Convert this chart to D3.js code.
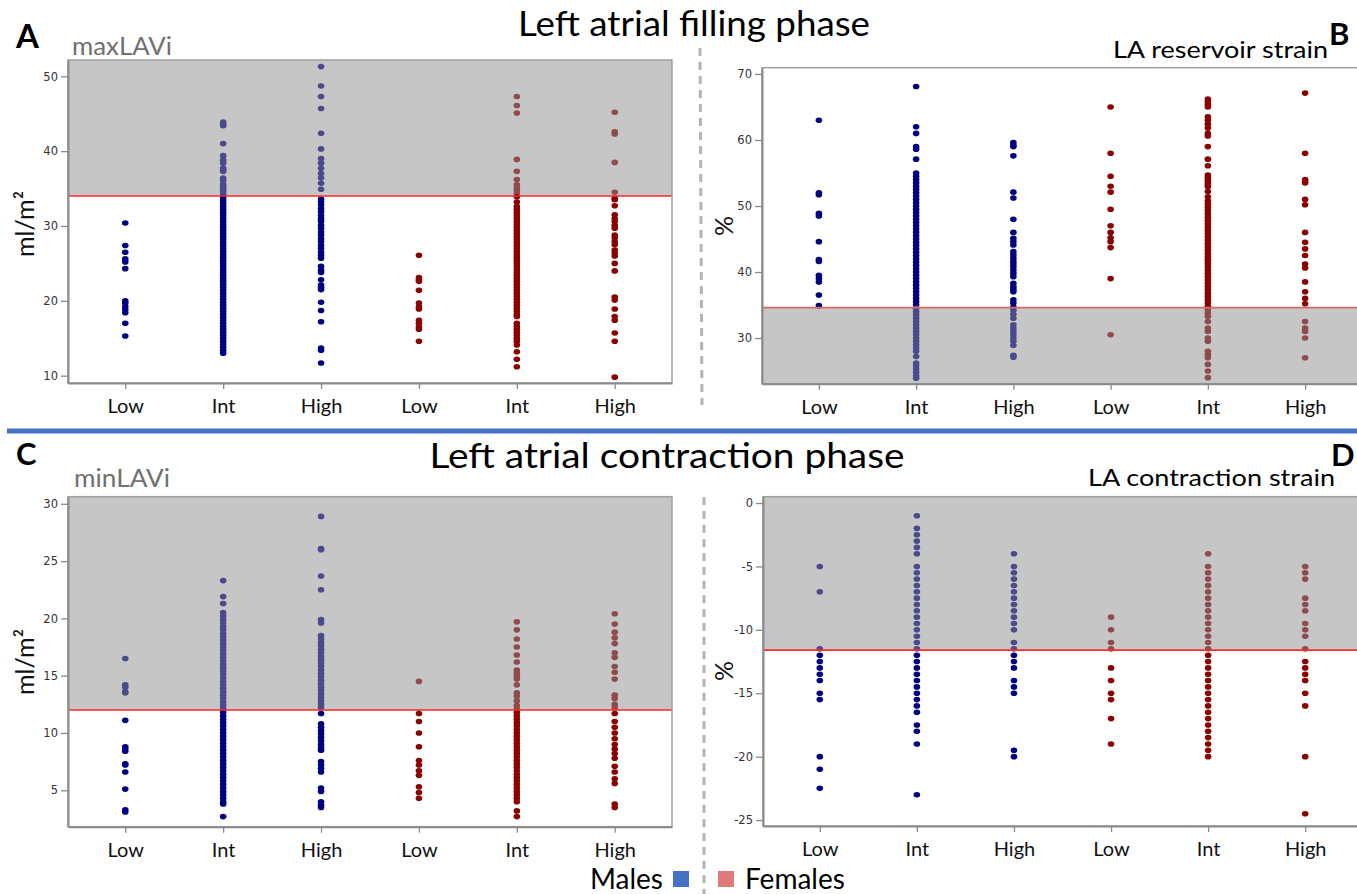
<!DOCTYPE html>
<html>
<head>
<meta charset="utf-8">
<script src="https://cdn.jsdelivr.net/npm/d3@7"></script>
<style>
  body { margin: 0; background: #fff; }
  svg { display: block; }
</style>
</head>
<body>
<svg id="chart" width="1357" height="894"></svg>
<script>
// category labels: males Low/Int/High, then females Low/Int/High
const groups = ["Low", "Int", "High", "Low", "Int", "High"]

// A - maxLAVi (ml/m2)
const maxLAVi = [
  [30.4, 27.4, 26.5, 25.6, 25.2, 24.3, 20.0, 19.7, 19.2, 18.8, 18.4, 17.0, 15.3],
  [43.9, 43.6, 43.4, 41.0, 39.4, 38.8, 38.4, 37.7, 37.5, 37.3, 36.4, 36.1, 35.6, 35.3, 35.0, 34.7, 34.4, 34.1,
   33.8, 33.4, 33.0, 32.6, 32.2, 31.8, 31.4, 31.0, 30.6, 30.2, 29.8, 29.4, 29.0, 28.6, 28.2, 27.8, 27.4, 27.0,
   26.6, 26.2, 25.8, 25.4, 25.0, 24.6, 24.2, 23.8, 23.4, 23.0, 22.6, 22.2, 21.8, 21.4, 21.0, 20.6, 20.2, 19.8,
   19.4, 19.0, 18.6, 18.2, 17.8, 17.4, 17.0, 16.6, 16.2, 15.8, 15.4, 15.0, 14.6, 14.2, 13.8, 13.4, 13.0],
  [51.3, 48.7, 47.3, 45.7, 42.4, 40.3, 39.0, 38.4, 37.7, 37.0, 36.4, 35.7, 34.9, 33.6, 33.2, 32.8, 32.3, 31.9,
   31.4, 31.0, 30.6, 30.1, 29.7, 29.2, 28.8, 28.3, 27.9, 27.4, 27.0, 26.5, 26.1, 25.7, 24.6, 24.1, 23.8, 22.8,
   22.1, 21.8, 21.5, 19.8, 18.7, 17.2, 13.7, 13.4, 11.7],
  [26.1, 23.1, 22.8, 22.6, 21.4, 19.7, 19.2, 18.9, 17.4, 17.0, 16.5, 16.2, 14.6],
  [47.3, 46.1, 45.1, 38.9, 37.3, 36.2, 35.5, 35.1, 34.8, 34.4, 33.9, 33.2, 32.6, 32.2, 31.8, 31.4, 31.0, 30.6,
   30.2, 29.8, 29.4, 29.0, 28.6, 28.2, 27.8, 27.4, 27.0, 26.6, 26.2, 25.8, 25.4, 25.0, 24.6, 24.2, 23.8, 23.4,
   23.0, 22.6, 22.2, 21.8, 21.4, 21.0, 20.6, 20.2, 19.8, 19.4, 19.0, 18.6, 18.2, 17.9, 17.0, 16.6, 16.2, 15.8,
   15.4, 15.0, 14.6, 14.1, 13.2, 12.2, 11.2],
  [45.2, 42.6, 42.3, 38.5, 34.5, 33.7, 33.5, 32.7, 31.5, 31.0, 30.6, 30.1, 29.7, 28.8, 28.4, 27.9, 27.5, 26.8,
   26.4, 26.0, 25.0, 24.0, 20.5, 20.1, 18.9, 17.9, 17.4, 15.7, 14.6, 9.8]
]

// B - LA reservoir strain (%)
const reservoir = [
  [63.0, 52.0, 51.7, 48.9, 48.5, 44.6, 41.9, 41.6, 39.5, 39.0, 38.5, 36.5, 34.9],
  [68.1, 62.0, 61.0, 59.0, 58.6, 57.1, 55.0, 54.5, 54.0, 53.5, 53.0, 52.5, 52.0, 51.5, 51.0, 50.5, 50.0, 49.5,
   49.0, 48.5, 48.0, 47.5, 47.0, 46.5, 46.0, 45.5, 45.0, 44.5, 44.0, 43.5, 43.0, 42.5, 42.0, 41.5, 41.0, 40.5,
   40.0, 39.5, 39.0, 38.5, 38.0, 37.5, 37.0, 36.5, 36.0, 35.5, 35.0, 34.5, 34.0, 33.5, 33.0, 32.5, 32.0, 31.5,
   31.0, 30.5, 30.0, 29.5, 29.0, 28.5, 28.0, 27.2, 26.2, 25.8, 25.3, 24.8, 24.3, 23.9],
  [59.6, 59.2, 59.0, 57.6, 52.1, 51.2, 48.0, 46.0, 45.1, 44.6, 44.1, 43.1, 42.6, 42.1, 41.6, 41.2, 40.8, 40.3,
   39.8, 39.3, 38.3, 37.8, 37.4, 37.0, 35.8, 35.3, 34.7, 34.2, 33.6, 33.0, 32.0, 31.5, 31.0, 30.5, 30.0, 29.5,
   28.9, 27.4, 27.1],
  [65.0, 58.0, 54.5, 53.0, 52.1, 49.5, 47.0, 46.0, 45.2, 44.6, 43.7, 39.0, 30.5],
  [66.2, 65.8, 65.4, 65.0, 63.5, 63.0, 62.4, 61.8, 61.0, 60.6, 59.0, 57.1, 56.1, 54.7, 54.3, 53.9, 53.5, 53.2,
   52.9, 52.2, 51.4, 50.8, 50.3, 49.8, 49.3, 48.8, 48.3, 47.8, 47.3, 46.8, 46.3, 45.8, 45.3, 44.8, 44.3, 43.8,
   43.3, 42.8, 42.3, 41.8, 41.3, 40.8, 40.3, 39.8, 39.3, 38.8, 38.3, 37.8, 37.3, 36.8, 36.3, 35.8, 35.3, 34.8,
   34.3, 33.8, 33.3, 32.5, 31.5, 31.0, 30.0, 29.5, 28.0, 27.5, 27.0, 26.0, 25.0, 24.0],
  [67.1, 58.0, 54.0, 53.7, 53.5, 51.0, 50.2, 46.0, 44.5, 43.5, 42.5, 41.2, 40.6, 38.5, 37.0, 36.0, 35.2, 32.5,
   31.5, 31.0, 30.0, 27.0]
]

// C - minLAVi (ml/m2)
const minLAVi = [
  [16.5, 14.2, 14.0, 13.6, 13.5, 11.1, 8.8, 8.6, 8.4, 7.3, 7.2, 6.6, 5.1, 3.3, 3.1],
  [23.3, 21.9, 21.3, 20.5, 20.2, 19.9, 19.6, 19.3, 19.0, 18.7, 18.4, 18.1, 17.8, 17.5, 17.2, 16.9, 16.6, 16.3,
   16.0, 15.7, 15.4, 15.1, 14.8, 14.5, 14.2, 13.9, 13.6, 13.3, 13.0, 12.7, 12.4, 12.1, 11.8, 11.5, 11.2, 10.9,
   10.6, 10.3, 10.0, 9.7, 9.4, 9.1, 8.8, 8.5, 8.2, 7.9, 7.6, 7.3, 7.0, 6.7, 6.4, 6.1, 5.8, 5.5, 5.2, 4.9, 4.6,
   4.3, 4.0, 3.8, 2.7],
  [28.9, 26.1, 26.0, 23.7, 22.5, 19.9, 19.6, 18.5, 18.2, 17.9, 17.6, 17.3, 17.0, 16.7, 16.4, 16.1, 15.8, 15.5,
   15.2, 14.9, 14.6, 14.3, 14.0, 13.7, 13.4, 13.1, 12.8, 12.5, 12.2, 11.7, 10.8, 10.5, 10.2, 9.9, 9.6, 9.3, 9.0,
   8.7, 8.5, 7.5, 7.2, 6.9, 6.6, 5.2, 4.9, 4.0, 3.7, 3.5],
  [14.5, 11.7, 11.0, 10.0, 8.8, 7.6, 7.2, 6.7, 6.3, 5.3, 4.8, 4.3],
  [19.7, 19.0, 18.2, 17.5, 16.8, 16.2, 15.5, 15.2, 14.9, 14.7, 14.2, 13.5, 13.2, 12.8, 12.4, 12.1, 11.8, 11.5,
   11.2, 10.9, 10.6, 10.3, 10.0, 9.7, 9.4, 9.1, 8.8, 8.5, 8.2, 7.9, 7.6, 7.3, 7.0, 6.7, 6.4, 6.1, 5.8, 5.5, 5.2,
   4.9, 4.6, 4.3, 4.0, 3.2, 2.7],
  [20.4, 19.5, 18.8, 18.3, 17.8, 17.0, 16.6, 15.8, 15.3, 14.7, 13.3, 13.0, 12.5, 12.2, 11.7, 11.0, 10.5, 10.0,
   9.5, 9.0, 8.6, 8.2, 7.8, 7.1, 6.6, 6.0, 5.6, 3.8, 3.5]
]

// D - LA contraction strain (%)
const contraction = [
  [-5, -7, -11.5, -12, -12.5, -13, -13.5, -14, -15, -15.5, -20, -21, -22.5],
  [-1, -2, -2.5, -3, -3.5, -4, -5, -5.5, -6, -6.5, -7, -7.5, -8, -8.5, -9, -9.5, -10, -10.5, -11, -11.5, -12,
   -12.5, -13, -13.5, -14, -14.5, -15, -15.5, -16, -16.5, -17.5, -18, -19, -23],
  [-4, -5, -5.5, -6, -6.5, -7, -7.5, -8, -8.5, -9, -9.5, -10, -11, -11.5, -12, -12.5, -13, -14, -14.5, -15,
   -19.5, -20],
  [-9, -10, -11, -11.5, -13, -14, -15, -15.5, -17, -19],
  [-4, -5, -5.5, -6, -6.5, -7, -7.5, -8, -8.5, -9, -9.5, -10, -10.5, -11, -11.5, -12, -12.5, -13, -13.5, -14,
   -14.5, -15, -15.5, -16, -16.5, -17, -17.5, -18, -18.5, -19, -19.5, -20],
  [-5, -5.5, -6, -7.5, -8, -8.5, -9.5, -10, -10.5, -11.5, -12.5, -13, -13.5, -14, -15, -16, -20, -24.5]
]

const svg = d3.select("#chart")

function drawPanel(cfg) {
  const g = svg.append("g")

  const x = d3.scalePoint()
    .domain(d3.range(groups.length))
    .range([cfg.x0, cfg.x1])
    .padding(0.585)

  const y = d3.scaleLinear()
    .domain(cfg.domain)
    .range([cfg.y1, cfg.y0])

  // shaded (abnormal) zone
  const zTop = cfg.grayAbove ? cfg.y0 : y(cfg.cut)
  const zBot = cfg.grayAbove ? y(cfg.cut) : cfg.y1
  g.append("rect")
    .attr("x", cfg.x0).attr("y", zTop)
    .attr("width", cfg.x1 - cfg.x0).attr("height", zBot - zTop)
    .attr("fill", "#c6c6c6")

  // dots
  cfg.data.forEach((col, i) => {
    const male = i < 3
    g.append("g").selectAll("ellipse")
      .data(col)
      .join("ellipse")
      .attr("cx", x(i))
      .attr("cy", d => y(d))
      .attr("rx", 3.3)
      .attr("ry", 2.8)
      .attr("fill", d => {
        const inGray = cfg.grayAbove ? d > cfg.cut : d < cfg.cut
        if (male) return inGray ? "#4a4a8c" : "#000080"
        return inGray ? "#8e4c4c" : "#8b0000"
      })
  })

  // cut-off line
  g.append("line")
    .attr("x1", cfg.x0).attr("x2", cfg.x1)
    .attr("y1", y(cfg.cut)).attr("y2", y(cfg.cut))
    .attr("stroke", cfg.cutColor)
    .attr("stroke-width", 1.6)

  // frame
  g.append("rect")
    .attr("x", cfg.x0).attr("y", cfg.y0)
    .attr("width", cfg.x1 - cfg.x0).attr("height", cfg.y1 - cfg.y0)
    .attr("fill", "none")
    .attr("stroke", "#a0a0a0")
    .attr("stroke-width", 1.5)

  const yAxis = g.append("g")
    .attr("transform", `translate(${cfg.x0},0)`)
    .call(d3.axisLeft(y).tickValues(cfg.ticks).tickSize(7).tickSizeOuter(0).tickPadding(3)
      .tickFormat(d => String(d)))   // plain hyphen minus, like the original
  yAxis.select(".domain").attr("stroke", "#8a8a8a").attr("stroke-width", 2)
  yAxis.selectAll(".tick line").attr("stroke", "#8a8a8a").attr("stroke-width", 1.3)
  yAxis.selectAll(".tick text")
    .attr("fill", "#333")
    .style("font-family", "'DejaVu Sans', Verdana, sans-serif")
    .style("font-size", "11.5px")

  const xAxis = g.append("g")
    .attr("transform", `translate(0,${cfg.y1})`)
    .call(d3.axisBottom(x).tickSize(6).tickSizeOuter(0).tickPadding(10).tickFormat(i => groups[i]))
  xAxis.select(".domain").attr("stroke", "#8a8a8a").attr("stroke-width", 2)
  xAxis.selectAll(".tick line").attr("stroke", "#8a8a8a").attr("stroke-width", 1.3)
  xAxis.selectAll(".tick text")
    .attr("fill", "#111")
    .style("font-family", "Lato, 'Open Sans', sans-serif")
    .style("font-size", "20px")

  // y axis label
  svg.append("text")
    .attr("transform", `translate(${cfg.labelX},${cfg.labelY}) rotate(-90)`)
    .attr("text-anchor", "middle")
    .style("font-family", "Lato, sans-serif")
    .style("font-size", "25px")
    .attr("fill", "#111")
    .text(cfg.yLabel)
}

drawPanel({ data: maxLAVi, x0: 68, x1: 672, y0: 60, y1: 383, domain: [9.02, 52.18],
  ticks: [10, 20, 30, 40, 50], cut: 34, grayAbove: true, cutColor: "#ff2a2a",
  yLabel: "ml/m²", labelX: 34, labelY: 224 })

drawPanel({ data: reservoir, x0: 762, x1: 1362, y0: 67.7, y1: 383.7, domain: [23.08, 70.95],
  ticks: [30, 40, 50, 60, 70], cut: 34.6, grayAbove: false, cutColor: "#d46a6a",
  yLabel: "%", labelX: 733, labelY: 226 })

drawPanel({ data: minLAVi, x0: 68, x1: 672, y0: 496.7, y1: 826.7, domain: [1.82, 30.62],
  ticks: [5, 10, 15, 20, 25, 30], cut: 12, grayAbove: true, cutColor: "#ff2a2a",
  yLabel: "ml/m²", labelX: 34, labelY: 662 })

drawPanel({ data: contraction, x0: 763, x1: 1362, y0: 496.7, y1: 826, domain: [-25.47, 0.5],
  ticks: [0, -5, -10, -15, -20, -25], cut: -11.6, grayAbove: true, cutColor: "#ff2a2a",
  yLabel: "%", labelX: 733, labelY: 671 })

// separators
svg.append("line")
  .attr("x1", 7).attr("x2", 1357).attr("y1", 431).attr("y2", 431)
  .attr("stroke", "#4472c4").attr("stroke-width", 5)

svg.append("line")
  .attr("x1", 700).attr("x2", 702).attr("y1", 48).attr("y2", 405)
  .attr("stroke", "#b4b4b4").attr("stroke-width", 3).attr("stroke-dasharray", "8,6")
svg.append("line")
  .attr("x1", 704).attr("x2", 704).attr("y1", 497).attr("y2", 894)
  .attr("stroke", "#b4b4b4").attr("stroke-width", 3).attr("stroke-dasharray", "8,6")

// headings
const texts = [
  { t: "A", x: 16, y: 48, size: 33, weight: "bold", anchor: "start", fill: "#000" },
  { t: "maxLAVi", x: 72, y: 55, size: 25, weight: "normal", anchor: "start", fill: "#707070", len: 100 },
  { t: "Left atrial filling phase", x: 694, y: 36, size: 34, weight: "normal", anchor: "middle", fill: "#000", len: 352 },
  { t: "B", x: 1329, y: 45, size: 31, weight: "bold", anchor: "start", fill: "#000" },
  { t: "LA reservoir strain", x: 1328, y: 58, size: 24, weight: "normal", anchor: "end", fill: "#000", len: 215 },
  { t: "C", x: 16, y: 465, size: 31, weight: "bold", anchor: "start", fill: "#000" },
  { t: "minLAVi", x: 74, y: 487, size: 25, weight: "normal", anchor: "start", fill: "#707070", len: 96 },
  { t: "Left atrial contraction phase", x: 667, y: 468, size: 34, weight: "normal", anchor: "middle", fill: "#000", len: 475 },
  { t: "D", x: 1331, y: 466, size: 31, weight: "bold", anchor: "start", fill: "#000" },
  { t: "LA contraction strain", x: 1335, y: 486, size: 24, weight: "normal", anchor: "end", fill: "#000", len: 247 },
  { t: "Males", x: 663, y: 889, size: 28, weight: "normal", anchor: "end", fill: "#000" },
  { t: "Females", x: 745, y: 889, size: 28, weight: "normal", anchor: "start", fill: "#000" }
]
texts.forEach(d => {
  const el = svg.append("text")
    .attr("x", d.x).attr("y", d.y)
    .attr("text-anchor", d.anchor)
    .attr("fill", d.fill)
    .style("font-family", "Lato, 'Open Sans', sans-serif")
    .style("font-size", d.size + "px")
    .style("font-weight", d.weight)
    .text(d.t)
  if (d.len) el.attr("textLength", d.len).attr("lengthAdjust", "spacingAndGlyphs")
})

// legend swatches
svg.append("rect").attr("x", 673).attr("y", 871).attr("width", 16).attr("height", 16).attr("fill", "#4472c4")
svg.append("rect").attr("x", 718).attr("y", 871).attr("width", 16).attr("height", 16).attr("fill", "#e07b7b")
</script>
</body>
</html>
